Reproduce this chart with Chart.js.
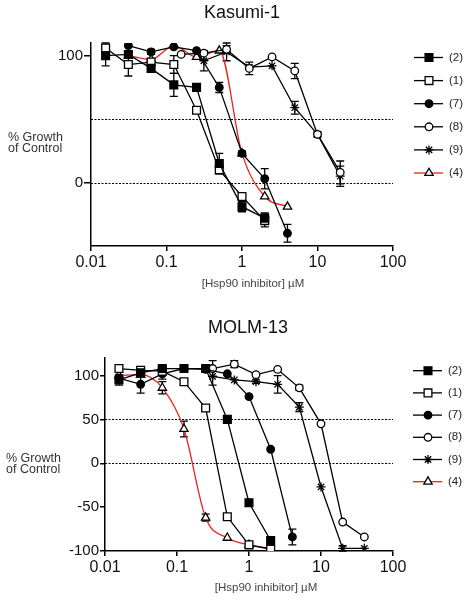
<!DOCTYPE html>
<html>
<head>
<meta charset="utf-8">
<title>Hsp90 inhibitor growth curves</title>
<script src="https://cdn.jsdelivr.net/npm/chart.js@4.4.1/dist/chart.umd.min.js"></script>
<style>
  html, body { margin: 0; padding: 0; background: #fff; }
  canvas { display: block; }
</style>
</head>
<body>
<canvas id="kasumi" width="469" height="300"></canvas>
<canvas id="molm" width="469" height="300"></canvas>
<script>
// Doses in µM (2-fold dilution series)
const doseLow = [0.015625, 0.03125, 0.0625, 0.125, 0.25, 0.5, 1, 2, 4];
const doseHigh = [0.15625, 0.3125, 0.625, 1.25, 2.5, 5, 10, 20, 40];

const xTicks = [0.01, 0.1, 1, 10, 100];
const kasumiYTicks = [0, 100];
const molmYTicks = [-100, -50, 0, 50, 100];
const compoundLabels = ['(2)', '(1)', '(7)', '(8)', '(9)', '(4)'];

// Kasumi-1: % growth of control, with error (+/-)
const kasumi2 = [100, 101, 90, 77, 75, 15, -19, -28, null];
const kasumi2Err = [8, 0, 3, 9, 0, 8, 4, 4, 0];
const kasumi1 = [106, 93, 95, 93, 57, 10, -11, -30, null];
const kasumi1Err = [4, 9, 0, 7, 2, 3, 2, 5, 0];
const kasumi7 = [null, 108, 103, 107, 104, 75, 23, 3, -40];
const kasumi7Err = [0, 0, 2, 0, 0, 4, 2, 8, 7];
const kasumi8 = [101, 102, 105, 90, 99, 88, 38, 8, null];
const kasumi8Err = [0, 0, 3, 5, 0, 6, 2, 9, 0];
const kasumi9 = [null, 96, 103, 91, 92, 59, 38, 5, null];
const kasumi9Err = [0, 8, 7, 0, 0, 5, 2, 8, 0];
const kasumi4 = [null, 100, 97, 108, 99, 104, 23, -11, -19];
const kasumi4Err = [0, 0, 0, 0, 0, 0, 0, 0, 0];

// MOLM-13
const molm2 = [95, 103, 108, 108, 108, 50, -45, -88, null];
const molm2Err = [6, 0, 0, 0, 0, 0, 0, 0, 0];
const molm1 = [108, 106, 105, 93, 63, -61, -93, -98, null];
const molm1Err = [0, 0, 0, 0, 0, 0, 0, 0, 0];
const molm7 = [97, 90, 102, 108, 107, 102, 76, 16, -84];
const molm7Err = [4, 10, 6, 0, 0, 0, 0, 0, 9];
const molm8 = [null, 108, 113, 101, 107, 86, 45, -67, -84];
const molm8Err = [0, 9, 4, 0, 0, 3, 0, 0, 0];
const molm9 = [null, 99, 95, 93, 90, 64, -27, -97, -97];
const molm9Err = [0, 10, 0, 2, 10, 5, 0, 3, 0];
const molm4 = [100, 101, 86, 39, -62, -85, -93, -97, null];
const molm4Err = [0, 0, 7, 9, 4, 0, 0, 0, 0];

const FONT = "'Liberation Sans', Arial, sans-serif";

const markerStyles = [
  { pointStyle: 'rect', fill: '#000', radius: 5.5, line: '#000' },
  { pointStyle: 'rect', fill: '#fff', radius: 5.5, line: '#000' },
  { pointStyle: 'circle', fill: '#000', radius: 3.8, line: '#000' },
  { pointStyle: 'circle', fill: '#fff', radius: 3.8, line: '#000' },
  { pointStyle: 'star', fill: '#000', radius: 4.5, line: '#000' },
  { pointStyle: 'triangle', fill: '#fff', radius: 4.8, line: '#e8231f' },
];

function toPoints(dose, values, errors) {
  return values
    .map((y, i) => ({ x: dose[i], y, err: errors[i] }))
    .filter((p) => p.y !== null);
}

function buildDatasets(series) {
  return series.map(([dose, values, errors], i) => {
    const m = markerStyles[i];
    return {
      label: compoundLabels[i],
      data: toPoints(dose, values, errors),
      borderColor: m.line,
      borderWidth: 1.3,
      pointStyle: m.pointStyle,
      pointRadius: m.radius,
      pointBackgroundColor: m.fill,
      pointBorderColor: '#000',
      pointBorderWidth: 1.3,
      cubicInterpolationMode: i === 5 ? 'monotone' : 'default',
      tension: 0,
    };
  });
}

// Draws the GraphPad-style extras: dotted reference lines, error bars,
// titles, the unrotated y label, and the line+marker legend on the right.
const figurePlugin = {
  id: 'figure',
  beforeDatasetsDraw(chart, args, opts) {
    const { ctx, chartArea } = chart;
    const xs = chart.scales.x;
    const ys = chart.scales.y;
    ctx.save();
    ctx.strokeStyle = '#000';
    ctx.lineWidth = 1.2;
    ctx.setLineDash([2, 1.5]);
    opts.refLines.forEach((v) => {
      const py = Math.round(ys.getPixelForValue(v)) + 0.5;
      ctx.beginPath();
      ctx.moveTo(chartArea.left, py);
      ctx.lineTo(chartArea.right, py);
      ctx.stroke();
    });
    ctx.setLineDash([]);
    ctx.lineWidth = 1.3;
    chart.data.datasets.forEach((ds) => {
      ds.data.forEach((p) => {
        if (!p.err) return;
        const px = xs.getPixelForValue(p.x);
        const top = ys.getPixelForValue(p.y + p.err);
        const bot = ys.getPixelForValue(p.y - p.err);
        ctx.beginPath();
        ctx.moveTo(px, top);
        ctx.lineTo(px, bot);
        ctx.moveTo(px - 4, top);
        ctx.lineTo(px + 4, top);
        ctx.moveTo(px - 4, bot);
        ctx.lineTo(px + 4, bot);
        ctx.stroke();
      });
    });
    ctx.restore();
  },
  afterDraw(chart, args, opts) {
    const { ctx } = chart;
    ctx.save();
    ctx.fillStyle = '#111';
    ctx.font = `18px ${FONT}`;
    ctx.textAlign = 'center';
    ctx.textBaseline = 'middle';
    ctx.fillText(opts.title, opts.titleX, opts.titleY);

    ctx.fillStyle = '#333';
    ctx.font = `12.5px ${FONT}`;
    ctx.textAlign = 'left';
    ctx.textBaseline = 'alphabetic';
    ctx.fillText('% Growth', opts.yLabelX, opts.yLabelY);
    ctx.fillText('of Control', opts.yLabelX, opts.yLabelY + 11);

    ctx.fillStyle = '#444';
    ctx.font = `11.5px ${FONT}`;
    ctx.textAlign = 'center';
    ctx.textBaseline = 'middle';
    ctx.fillText('[Hsp90 inhibitor] µM', opts.xLabelX, opts.xLabelY);

    chart.data.datasets.forEach((ds, i) => {
      const y = opts.legendY + i * opts.legendStep;
      const x0 = opts.legendX;
      ctx.strokeStyle = ds.borderColor;
      ctx.lineWidth = 1.3;
      ctx.beginPath();
      ctx.moveTo(x0, y);
      ctx.lineTo(x0 + 29, y);
      ctx.stroke();
      ctx.fillStyle = ds.pointBackgroundColor;
      ctx.strokeStyle = '#000';
      Chart.helpers.drawPoint(ctx, {
        pointStyle: ds.pointStyle,
        radius: ds.pointRadius,
        rotation: 0,
        borderWidth: 1.3,
      }, x0 + 15, y);
      ctx.fillStyle = '#222';
      ctx.font = `11.5px ${FONT}`;
      ctx.textAlign = 'left';
      ctx.textBaseline = 'middle';
      ctx.fillText(ds.label, x0 + 35, y);
    });
    ctx.restore();
  },
};

function makeChart(id, series, layout) {
  return new Chart(document.getElementById(id), {
    type: 'line',
    data: { datasets: buildDatasets(series) },
    options: {
      responsive: false,
      animation: false,
      events: [],
      layout: { padding: { top: layout.padTop, right: 76, bottom: 0, left: 0 } },
      scales: {
        x: {
          type: 'logarithmic',
          min: 0.01,
          max: 100,
          afterBuildTicks: (s) => { s.ticks = xTicks.map((v) => ({ value: v })); },
          afterFit: (s) => { s.height = layout.xHeight; },
          grid: { drawOnChartArea: false, drawTicks: true, tickLength: 5, color: '#000', lineWidth: 1.5 },
          border: { color: '#000', width: 1.5 },
          ticks: {
            font: { family: FONT, size: 16 },
            color: '#111',
            padding: 2,
            maxRotation: 0,
            autoSkip: false,
            callback: (v) => String(v),
          },
        },
        y: {
          min: layout.yMin,
          max: layout.yMax,
          afterBuildTicks: (s) => { s.ticks = layout.yTicks.map((v) => ({ value: v })); },
          afterFit: (s) => { s.width = layout.yWidth; },
          grid: { drawOnChartArea: false, drawTicks: true, tickLength: layout.yTickLen, color: '#000', lineWidth: 1.5 },
          border: { color: '#000', width: 1.5 },
          ticks: {
            font: { family: FONT, size: 15 },
            color: '#111',
            padding: 1,
            autoSkip: false,
          },
        },
      },
      plugins: {
        legend: { display: false },
        tooltip: { enabled: false },
        figure: layout.figure,
      },
    },
    plugins: [figurePlugin],
  });
}

makeChart('kasumi', [
  [doseLow, kasumi2, kasumi2Err],
  [doseLow, kasumi1, kasumi1Err],
  [doseLow, kasumi7, kasumi7Err],
  [doseHigh, kasumi8, kasumi8Err],
  [doseHigh, kasumi9, kasumi9Err],
  [doseLow, kasumi4, kasumi4Err],
], {
  padTop: 43, xHeight: 54, yWidth: 91, yTickLen: 7,
  yMin: -50, yMax: 110, yTicks: kasumiYTicks,
  figure: {
    title: 'Kasumi-1', titleX: 242, titleY: 13,
    yLabelX: 8, yLabelY: 141,
    xLabelX: 253, xLabelY: 284,
    legendX: 414, legendY: 57.5, legendStep: 23.1,
    refLines: [50, 0],
  },
});

makeChart('molm', [
  [doseLow, molm2, molm2Err],
  [doseLow, molm1, molm1Err],
  [doseLow, molm7, molm7Err],
  [doseHigh, molm8, molm8Err],
  [doseHigh, molm9, molm9Err],
  [doseLow, molm4, molm4Err],
], {
  padTop: 58, xHeight: 49, yWidth: 105, yTickLen: 5,
  yMin: -100, yMax: 120, yTicks: molmYTicks,
  figure: {
    title: 'MOLM-13', titleX: 248, titleY: 28,
    yLabelX: 6, yLabelY: 162,
    xLabelX: 266, xLabelY: 288,
    legendX: 413, legendY: 70.7, legendStep: 22.2,
    refLines: [50, 0],
  },
});
</script>
</body>
</html>
